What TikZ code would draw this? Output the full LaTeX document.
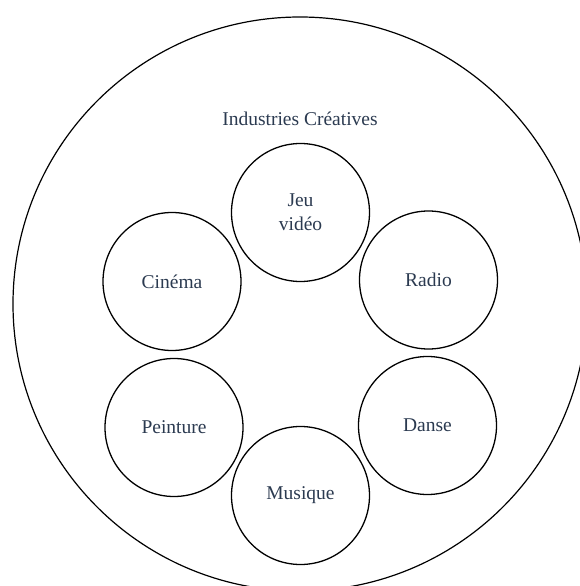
\documentclass[tikz,border=0pt]{standalone}
\usepackage{fontspec}
\setmainfont{Liberation Serif}
\definecolor{txt}{HTML}{2B3A50}
\begin{document}
\begin{tikzpicture}[x=1pt,y=-1pt,
  field/.style={circle,draw=black,line width=1.3pt,minimum size=138pt,inner sep=0pt,
    text=txt,font=\fontsize{19.5}{24}\selectfont,align=center},
  title/.style={text=txt,font=\fontsize{19.5}{24}\selectfont}]
\useasboundingbox (0,0) rectangle (579,586);
\draw[line width=1.2pt] (300,304) circle[radius=287];
\node[title] (t) at (300,119) {Industries Créatives};
\node[field] (jeu) at (300.5,212.5) {Jeu\\vidéo};
\node[field] (cin) at (172,281.5) {Cinéma};
\node[field] (rad) at (428.5,280) {Radio};
\node[field] (pei) at (174,427.5) {Peinture};
\node[field] (dan) at (427.5,425.5) {Danse};
\node[field] (mus) at (300.5,495.5) {Musique};
\end{tikzpicture}
\end{document}
